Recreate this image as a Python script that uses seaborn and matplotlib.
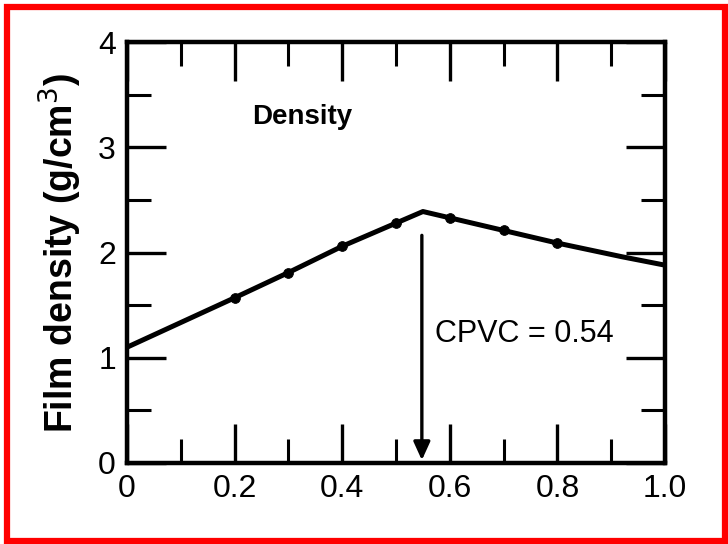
import matplotlib
matplotlib.use("Agg")
import matplotlib.pyplot as plt
import seaborn as sns
import pandas as pd
from matplotlib.patches import Rectangle
from matplotlib.ticker import MultipleLocator, FixedLocator, FixedFormatter

# Data
pvc = [0.0, 0.2, 0.3, 0.4, 0.5, 0.55, 0.6, 0.7, 0.8, 0.92, 1.0]
density = [1.10, 1.57, 1.81, 2.06, 2.28, 2.39, 2.33, 2.21, 2.09, 1.96, 1.88]
marker_x = [0.2, 0.3, 0.4, 0.5, 0.6, 0.7, 0.8]
marker_y = [1.57, 1.81, 2.06, 2.28, 2.33, 2.21, 2.09]
xtick_vals = [0, 0.2, 0.4, 0.6, 0.8, 1.0]
xtick_labels = ["0", "0.2", "0.4", "0.6", "0.8", "1.0"]
ytick_vals = [0, 1, 2, 3, 4]
ytick_labels = ["0", "1", "2", "3", "4"]
cpvc = 0.54

sns.set_style("ticks")
plt.rcParams['font.family'] = ['Liberation Sans', 'DejaVu Sans']

fig = plt.figure(figsize=(7.28, 5.44), dpi=100)
ax = fig.add_axes([0.1745, 0.149, 0.739, 0.7735])

df = pd.DataFrame({"pvc": pvc, "density": density})
sns.lineplot(data=df, x="pvc", y="density", ax=ax, color="black", linewidth=3.6)
dm = pd.DataFrame({"x": marker_x, "y": marker_y})
sns.scatterplot(data=dm, x="x", y="y", ax=ax, color="black", s=50, edgecolor="black", zorder=3)

ax.set_xlim(0, 1.0)
ax.set_ylim(0, 4)
ax.xaxis.set_major_locator(FixedLocator(xtick_vals))
ax.xaxis.set_major_formatter(FixedFormatter(xtick_labels))
ax.xaxis.set_minor_locator(MultipleLocator(0.1))
ax.yaxis.set_major_locator(FixedLocator(ytick_vals))
ax.yaxis.set_major_formatter(FixedFormatter(ytick_labels))
ax.yaxis.set_minor_locator(MultipleLocator(0.5))

ax.tick_params(which="major", direction="in", length=28, width=2.4, top=True, right=True,
               labelsize=23, pad=8, color="black", labelcolor="black")
ax.tick_params(which="minor", direction="in", length=17, width=2.2, top=True, right=True, color="black")
for s in ax.spines.values():
    s.set_linewidth(3.2)
    s.set_color("black")

ax.set_xlabel("")
ax.set_ylabel("Film density (g/cm$^3$)", fontsize=27, fontweight="bold", labelpad=10, color="black")

ax.annotate("", xy=(cpvc + 0.008, 0.0), xytext=(cpvc + 0.008, 2.19),
            arrowprops=dict(arrowstyle="-|>,head_length=1.1,head_width=0.5", color="black", lw=2.4))
ax.text(0.573, 1.23, "CPVC = 0.54", fontsize=22, va="center", ha="left", color="black")
ax.text(0.232, 3.29, "Density", fontsize=20, fontweight="bold", va="center", ha="left", color="black")

fig.patches.append(Rectangle((7 / 728, 3 / 544), 718 / 728, 534 / 544, transform=fig.transFigure,
                             fill=False, edgecolor="red", linewidth=4.5))

fig.savefig("out.png", dpi=100, facecolor="white")
